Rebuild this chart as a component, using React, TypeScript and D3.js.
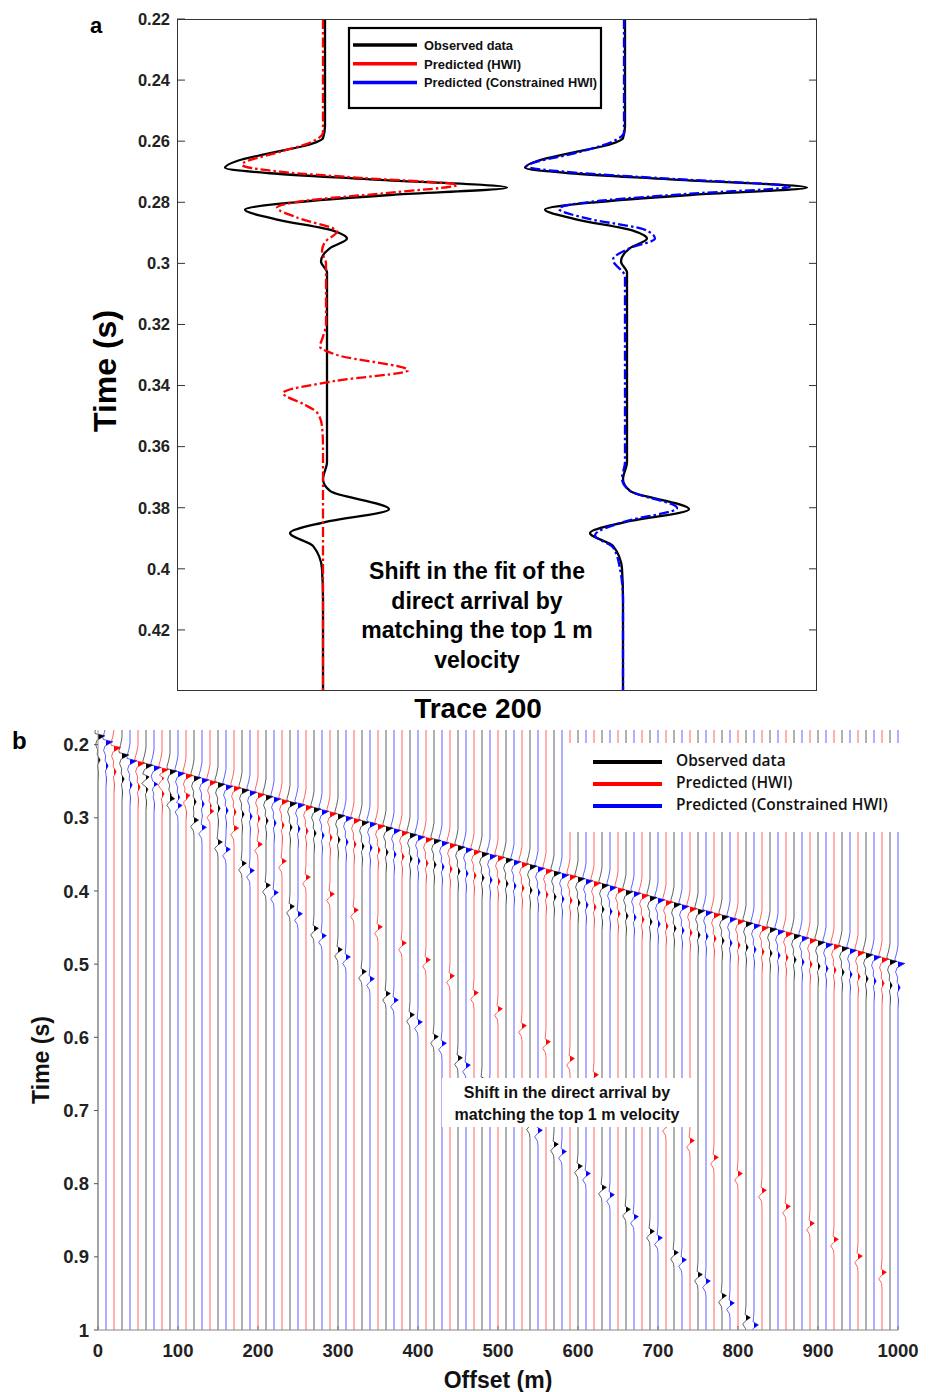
import React, { useEffect, useRef } from "react";
import * as d3 from "d3";

// ---------- panel a : trace 200 (time in s, amplitude in normalised units) ----------
const obsTime = [0.22, 0.255, 0.259, 0.2615, 0.2639, 0.2665, 0.2687, 0.2705, 0.2725, 0.2752, 0.2775, 0.28, 0.2824, 0.2855, 0.2895, 0.2919, 0.295, 0.2994, 0.303, 0.31, 0.365, 0.3707, 0.3745, 0.3805, 0.3847, 0.3883, 0.3925, 0.4, 0.41, 0.44];
const obsAmp = [0.0, 0.0, -0.02, -0.2, -0.55, -0.88, -1.0, -0.55, 0.45, 1.82, 0.7, -0.3, -0.8, -0.5, 0.1, 0.22, 0.05, -0.04, 0.02, 0.02, 0.02, -0.02, 0.05, 0.64, 0.0, -0.35, -0.12, -0.03, -0.02, -0.02];

const hwiTime = [0.22, 0.257, 0.2605, 0.2635, 0.2677, 0.27, 0.272, 0.2743, 0.277, 0.2795, 0.2818, 0.285, 0.2896, 0.293, 0.296, 0.3, 0.32, 0.324, 0.3272, 0.33, 0.335, 0.3385, 0.3425, 0.346, 0.3488, 0.3533, 0.36, 0.44];
const hwiAmp = [-0.02, -0.02, -0.15, -0.45, -0.83, -0.45, 0.35, 1.32, 0.6, -0.2, -0.48, -0.28, 0.12, 0.0, -0.03, 0.01, 0.01, -0.02, -0.05, 0.12, 0.83, 0.1, -0.42, -0.22, -0.08, -0.03, -0.02, -0.02];

const chwiTime = [0.22, 0.257, 0.2605, 0.2635, 0.2683, 0.2703, 0.2722, 0.2749, 0.2772, 0.2795, 0.2821, 0.2855, 0.289, 0.2919, 0.295, 0.2988, 0.3043, 0.31, 0.365, 0.3705, 0.3745, 0.3801, 0.3845, 0.389, 0.393, 0.4, 0.41, 0.44];
const chwiAmp = [-0.01, -0.01, -0.15, -0.45, -0.98, -0.5, 0.4, 1.65, 0.65, -0.25, -0.66, -0.35, 0.2, 0.3, 0.05, -0.12, 0.0, 0.0, 0.0, -0.03, 0.05, 0.52, 0.0, -0.3, -0.12, -0.05, -0.02, -0.02];

const traceCentres = [0, 3];
const aTicks = [0.22, 0.24, 0.26, 0.28, 0.3, 0.32, 0.34, 0.36, 0.38, 0.4, 0.42];
const aTickLabels = ["0.22", "0.24", "0.26", "0.28", "0.3", "0.32", "0.34", "0.36", "0.38", "0.4", "0.42"];

// ---------- panel b : shot gather, every trace 10 m ----------
const obsOffsets = [0, 30, 60, 90, 120, 150, 180, 210, 240, 270, 300, 330, 360, 390, 420, 450, 480, 510, 540, 570, 600, 630, 660, 690, 720, 750, 780, 810, 840, 870, 900, 930, 960, 990];
const obsDirect = [0.188, 0.214, 0.228, 0.236, 0.245, 0.254, 0.262, 0.271, 0.28, 0.288, 0.297, 0.306, 0.314, 0.323, 0.331, 0.34, 0.349, 0.357, 0.366, 0.375, 0.383, 0.392, 0.401, 0.409, 0.418, 0.427, 0.435, 0.444, 0.452, 0.461, 0.47, 0.478, 0.487, 0.496];
const obsSlow = [null, null, 0.244, 0.274, 0.303, 0.333, 0.362, 0.392, 0.421, 0.451, 0.48, 0.51, 0.54, 0.569, 0.599, 0.628, 0.658, 0.687, 0.717, 0.746, 0.776, 0.805, 0.835, 0.865, 0.894, 0.924, 0.953, 0.983, null, null, null, null, null, null];

const chwiOffsets = [10, 40, 70, 100, 130, 160, 190, 220, 250, 280, 310, 340, 370, 400, 430, 460, 490, 520, 550, 580, 610, 640, 670, 700, 730, 760, 790, 820, 850, 880, 910, 940, 970, 1000];
const chwiDirect = [0.196, 0.222, 0.231, 0.239, 0.248, 0.257, 0.265, 0.274, 0.282, 0.291, 0.3, 0.308, 0.317, 0.326, 0.334, 0.343, 0.352, 0.36, 0.369, 0.378, 0.386, 0.395, 0.403, 0.412, 0.421, 0.429, 0.438, 0.447, 0.455, 0.464, 0.473, 0.481, 0.49, 0.499];
const chwiSlow = [null, null, 0.254, 0.283, 0.313, 0.343, 0.372, 0.402, 0.431, 0.461, 0.49, 0.52, 0.549, 0.579, 0.608, 0.638, 0.668, 0.697, 0.727, 0.756, 0.786, 0.815, 0.845, 0.874, 0.904, 0.933, 0.963, 0.993, null, null, null, null, null, null];

const hwiOffsets = [20, 50, 80, 110, 140, 170, 200, 230, 260, 290, 320, 350, 380, 410, 440, 470, 500, 530, 560, 590, 620, 650, 680, 710, 740, 770, 800, 830, 860, 890, 920, 950, 980];
const hwiDirect = [0.204, 0.225, 0.234, 0.242, 0.251, 0.259, 0.268, 0.277, 0.285, 0.294, 0.303, 0.311, 0.32, 0.329, 0.337, 0.346, 0.354, 0.363, 0.372, 0.38, 0.389, 0.398, 0.406, 0.415, 0.424, 0.432, 0.441, 0.45, 0.458, 0.467, 0.475, 0.484, 0.493];
const hwiSlow = [null, null, 0.246, 0.269, 0.291, 0.314, 0.336, 0.359, 0.381, 0.404, 0.426, 0.449, 0.471, 0.494, 0.516, 0.539, 0.561, 0.584, 0.606, 0.629, 0.651, 0.674, 0.696, 0.719, 0.741, 0.764, 0.786, 0.809, 0.831, 0.854, 0.876, 0.899, 0.921];

// wavelets (time relative to the positive peak, amplitude relative to the peak)
const directWaveT = [-0.024, -0.014, -0.006, -0.003, 0, 0.006, 0.012, 0.019, 0.026, 0.033, 0.04, 0.05, 0.062];
const directWaveA = [0, -0.2, -0.45, -0.4, 1.0, -0.15, -0.35, -0.05, -0.12, 0.32, -0.08, 0.06, 0];
const slowWaveT = [-0.018, -0.01, -0.004, 0, 0.005, 0.009, 0.015, 0.022];
const slowWaveA = [0, -0.1, -0.2, 1.0, -0.2, -0.75, -0.1, 0];

const bYTicks = [0.2, 0.3, 0.4, 0.5, 0.6, 0.7, 0.8, 0.9, 1];
const bYLabels = ["0.2", "0.3", "0.4", "0.5", "0.6", "0.7", "0.8", "0.9", "1"];
const bXTicks = [0, 100, 200, 300, 400, 500, 600, 700, 800, 900, 1000];

const legendLabels = ["Observed data", "Predicted (HWI)", "Predicted (Constrained HWI)"];
const legendColors = ["#000000", "#ff0000", "#0000ff"];
const legendWidthsA = [89, 97, 173];

const FONT = "'Liberation Sans', Arial, Helvetica, sans-serif";

function drawPanelA(svg: any) {
  const y = d3.scaleLinear().domain([0.22, 0.44]).range([19, 691]);
  const x = d3.scaleLinear().domain([-1.48, 4.92]).range([177, 817]);
  const g = svg.append("g");

  g.append("clipPath").attr("id", "clipA")
    .append("rect").attr("x", 177).attr("y", 19).attr("width", 640).attr("height", 672);

  // y ticks, both sides, inward
  aTicks.forEach((t, i) => {
    g.append("line").attr("x1", 177).attr("x2", 185).attr("y1", y(t)).attr("y2", y(t))
      .attr("stroke", "#333").attr("stroke-width", 1);
    g.append("line").attr("x1", 817).attr("x2", 809).attr("y1", y(t)).attr("y2", y(t))
      .attr("stroke", "#333").attr("stroke-width", 1);
    g.append("text").attr("x", 170).attr("y", y(t)).attr("dy", "0.35em")
      .attr("text-anchor", "end").attr("font-family", FONT).attr("font-weight", "bold")
      .attr("font-size", 16.5).attr("fill", "#222").text(aTickLabels[i]);
  });

  const traces = [
    { t: obsTime, a: obsAmp, c: traceCentres[0], color: "#000", dash: null },
    { t: obsTime, a: obsAmp, c: traceCentres[1], color: "#000", dash: null },
    { t: hwiTime, a: hwiAmp, c: traceCentres[0], color: "#ff0000", dash: "10,3,2.5,3" },
    { t: chwiTime, a: chwiAmp, c: traceCentres[1], color: "#0000ff", dash: "10,3,2.5,3" },
  ];
  const lg = g.append("g").attr("clip-path", "url(#clipA)");
  traces.forEach((tr) => {
    const line = d3.line<number>()
      .x((i) => x(tr.c + tr.a[i]))
      .y((i) => y(tr.t[i]))
      .curve(d3.curveMonotoneY);
    const p = lg.append("path").attr("d", line(d3.range(tr.t.length)))
      .attr("fill", "none").attr("stroke", tr.color).attr("stroke-width", 2.3);
    if (tr.dash) p.attr("stroke-dasharray", tr.dash);
  });

  // frame
  g.append("rect").attr("x", 177.5).attr("y", 19.5).attr("width", 639).attr("height", 671)
    .attr("fill", "none").attr("stroke", "#333").attr("stroke-width", 1);

  // legend
  g.append("rect").attr("x", 349).attr("y", 28).attr("width", 252).attr("height", 80)
    .attr("fill", "#fff").attr("stroke", "#000").attr("stroke-width", 2.2);
  legendLabels.forEach((lab, i) => {
    const yy = 45 + i * 18.8;
    g.append("line").attr("x1", 353).attr("x2", 417).attr("y1", yy).attr("y2", yy)
      .attr("stroke", legendColors[i]).attr("stroke-width", 3.5);
    g.append("text").attr("x", 424).attr("y", yy).attr("dy", "0.35em")
      .attr("font-family", "'Liberation Sans Narrow', 'Liberation Sans', sans-serif")
      .attr("font-weight", "bold").attr("font-size", 13.5).attr("fill", "#111")
      .attr("textLength", legendWidthsA[i]).attr("lengthAdjust", "spacingAndGlyphs")
      .text(lab);
  });

  // annotation
  ["Shift in the fit of the", "direct arrival by", "matching the top 1 m", "velocity"].forEach((s, i) => {
    g.append("text").attr("x", 477).attr("y", 579 + i * 29.5).attr("text-anchor", "middle")
      .attr("font-family", FONT).attr("font-weight", "bold").attr("font-size", 23)
      .attr("fill", "#000").text(s);
  });

  g.append("text").attr("x", 478).attr("y", 718).attr("text-anchor", "middle")
    .attr("font-family", FONT).attr("font-weight", "bold").attr("font-size", 28)
    .attr("fill", "#000").text("Trace 200");
  g.append("text").attr("transform", "translate(116,371) rotate(-90)").attr("text-anchor", "middle")
    .attr("font-family", FONT).attr("font-weight", "bold").attr("font-size", 32)
    .attr("fill", "#000").text("Time (s)");
  g.append("text").attr("x", 90).attr("y", 33).attr("font-family", FONT)
    .attr("font-weight", "bold").attr("font-size", 22).attr("fill", "#000").text("a");
}

type Ev = { t: number; T: number[]; A: number[]; gain: number };

function tracePoints(events: Ev[], t0: number, t1: number): [number, number][] {
  const interps = events.map((e) =>
    d3.scaleLinear().domain(e.T.map((d) => d + e.t)).range(e.A.map((d) => d * e.gain)).clamp(true)
  );
  const times = [t0, t1];
  events.forEach((e) => e.T.forEach((d) => times.push(e.t + d)));
  const ts = Array.from(new Set(times)).filter((t) => t >= t0 && t <= t1).sort((a, b) => a - b);
  const pts: [number, number][] = ts.map((t) => [t, d3.sum(interps, (f) => f(t))]);
  const out: [number, number][] = [];
  pts.forEach((p, i) => {
    if (i > 0) {
      const q = pts[i - 1];
      if ((q[1] > 0 && p[1] < 0) || (q[1] < 0 && p[1] > 0)) {
        const f = q[1] / (q[1] - p[1]);
        out.push([q[0] + f * (p[0] - q[0]), 0]);
      }
    }
    out.push(p);
  });
  return out;
}

function drawPanelB(svg: any) {
  const x = d3.scaleLinear().domain([0, 1000]).range([98, 898]);
  const y = d3.scaleLinear().domain([0.18, 1.0]).range([730, 1330]);
  const DIRECT_GAIN = 8.5;
  const SLOW_GAIN = 5.5;
  const g = svg.append("g");

  g.append("clipPath").attr("id", "clipB")
    .append("rect").attr("x", 90).attr("y", 730).attr("width", 820).attr("height", 600);

  const series = [
    { offsets: obsOffsets, direct: obsDirect, slow: obsSlow, color: "#000000" },
    { offsets: chwiOffsets, direct: chwiDirect, slow: chwiSlow, color: "#0000ff" },
    { offsets: hwiOffsets, direct: hwiDirect, slow: hwiSlow, color: "#ff0000" },
  ];

  const tg = g.append("g").attr("clip-path", "url(#clipB)");
  series.forEach((s) => {
    s.offsets.forEach((off, i) => {
      const evs: Ev[] = [{ t: s.direct[i], T: directWaveT, A: directWaveA, gain: DIRECT_GAIN }];
      const sl = s.slow[i];
      if (sl != null) evs.push({ t: sl, T: slowWaveT, A: slowWaveA, gain: SLOW_GAIN });
      const pts = tracePoints(evs, 0.18, 1.0);
      const area = d3.area<[number, number]>()
        .y((d) => y(d[0]))
        .x0(x(off))
        .x1((d) => x(off + Math.max(0, d[1])));
      const line = d3.line<[number, number]>().x((d) => x(off + d[1])).y((d) => y(d[0]));
      tg.append("path").attr("d", line(pts)).attr("fill", "none")
        .attr("stroke", s.color).attr("stroke-width", 1).attr("stroke-opacity", 0.62);
      tg.append("path").attr("d", area(pts)).attr("fill", s.color);
    });
  });

  // axes
  g.append("line").attr("x1", 98).attr("x2", 898).attr("y1", 1330).attr("y2", 1330)
    .attr("stroke", "#888").attr("stroke-width", 1);
  g.append("line").attr("x1", 98).attr("x2", 98).attr("y1", 730).attr("y2", 1330)
    .attr("stroke", "#999").attr("stroke-width", 1);
  bYTicks.forEach((t, i) => {
    g.append("line").attr("x1", 94).attr("x2", 98).attr("y1", y(t)).attr("y2", y(t))
      .attr("stroke", "#555");
    g.append("text").attr("x", 89).attr("y", y(t)).attr("dy", "0.36em").attr("text-anchor", "end")
      .attr("font-family", FONT).attr("font-weight", "bold").attr("font-size", 18.5)
      .attr("fill", "#222").text(bYLabels[i]);
  });
  bXTicks.forEach((t) => {
    g.append("line").attr("x1", x(t)).attr("x2", x(t)).attr("y1", 1330).attr("y2", 1326)
      .attr("stroke", "#777");
    g.append("text").attr("x", x(t)).attr("y", 1350).attr("dy", "0.36em").attr("text-anchor", "middle")
      .attr("font-family", FONT).attr("font-weight", "bold").attr("font-size", 18.5)
      .attr("fill", "#222").text(String(t));
  });

  // legend
  g.append("rect").attr("x", 563).attr("y", 743).attr("width", 338).attr("height", 89).attr("fill", "#fff");
  legendLabels.forEach((lab, i) => {
    const yy = 762 + i * 22;
    g.append("line").attr("x1", 593).attr("x2", 662).attr("y1", yy).attr("y2", yy)
      .attr("stroke", legendColors[i]).attr("stroke-width", 4);
    g.append("text").attr("x", 676).attr("y", yy - 1).attr("dy", "0.35em")
      .attr("font-family", "'Open Sans', sans-serif").attr("font-weight", 600)
      .attr("font-size", 15.5).attr("fill", "#111").text(lab);
  });

  // annotation
  g.append("rect").attr("x", 442).attr("y", 1078).attr("width", 254).attr("height", 49).attr("fill", "#fff");
  ["Shift in the direct arrival by", "matching the top 1 m velocity"].forEach((s, i) => {
    g.append("text").attr("x", 567).attr("y", 1092 + i * 22).attr("dy", "0.35em")
      .attr("text-anchor", "middle").attr("font-family", FONT).attr("font-weight", "bold")
      .attr("font-size", 16).attr("fill", "#111").text(s);
  });

  g.append("text").attr("x", 498).attr("y", 1388).attr("text-anchor", "middle")
    .attr("font-family", FONT).attr("font-weight", "bold").attr("font-size", 23)
    .attr("fill", "#111").text("Offset (m)");
  g.append("text").attr("transform", "translate(49,1060) rotate(-90)").attr("text-anchor", "middle")
    .attr("font-family", FONT).attr("font-weight", "bold").attr("font-size", 23)
    .attr("fill", "#111").text("Time (s)");
  g.append("text").attr("x", 12).attr("y", 749).attr("font-family", FONT)
    .attr("font-weight", "bold").attr("font-size", 24).attr("fill", "#000").text("b");
}

export default function App() {
  const ref = useRef<SVGSVGElement>(null);

  useEffect(() => {
    const svg = d3.select(ref.current);
    svg.selectAll("*").remove();
    drawPanelA(svg);
    drawPanelB(svg);
  }, []);

  return (
    <svg
      ref={ref}
      width={937}
      height={1392}
      style={{ position: "absolute", left: 0, top: 0, background: "#fff" }}
    />
  );
}
